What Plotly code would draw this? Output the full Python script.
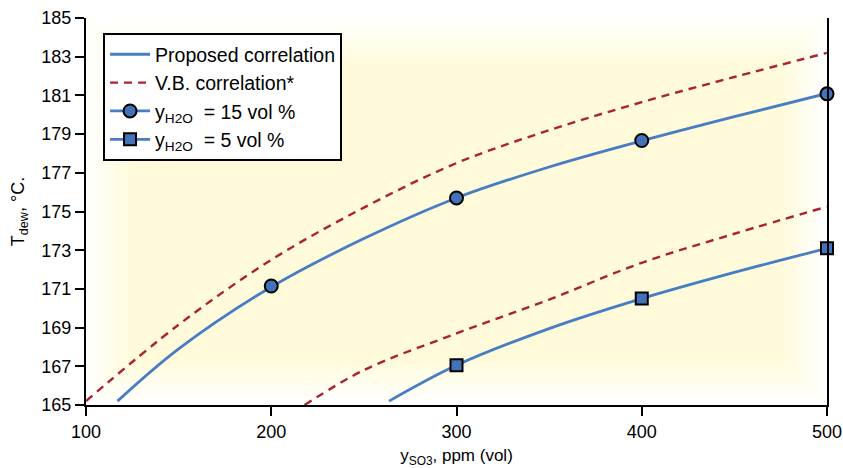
import plotly.graph_objects as go

# ---- data ----
# Proposed correlation curves
prop15_x = [117, 150, 200, 250, 300, 350, 400, 450, 500]
prop15_y = [165.2, 167.9, 171.1, 173.6, 175.7, 177.3, 178.65, 179.9, 181.1]
prop5_x = [263.6, 300, 350, 400, 450, 500]
prop5_y = [165.2, 167.05, 168.95, 170.5, 171.85, 173.1]
# V.B. correlation curves
vb15_x = [100, 150, 200, 250, 300, 350, 400, 450, 500]
vb15_y = [165.2, 169.15, 172.5, 175.2, 177.5, 179.2, 180.65, 181.95, 183.2]
vb5_x = [218, 250, 300, 350, 400, 450, 500]
vb5_y = [165.0, 166.8, 168.7, 170.45, 172.35, 173.85, 175.25]
# measured points
pts15_x = [200, 300, 400, 500]
pts15_y = [171.15, 175.7, 178.67, 181.08]
pts5_x = [300, 400, 500]
pts5_y = [167.05, 170.5, 173.1]

x_ticks = [100, 200, 300, 400, 500]
y_ticks = [165, 167, 169, 171, 173, 175, 177, 179, 181, 183, 185]

BLUE = "#467DC3"
MFILL = "#4472B8"
RED = "#AA2330"
FONT = "Liberation Sans, Arial, sans-serif"

fig = go.Figure()
fig.add_trace(go.Scatter(x=prop15_x, y=prop15_y, mode="lines", line=dict(color=BLUE, width=2.8, shape="spline"),
                         name="Proposed correlation", showlegend=True))
fig.add_trace(go.Scatter(x=prop5_x, y=prop5_y, mode="lines", line=dict(color=BLUE, width=2.8, shape="spline"),
                         showlegend=False))
fig.add_trace(go.Scatter(x=vb15_x, y=vb15_y, mode="lines", line=dict(color=RED, width=2.4, dash="8px,6px", shape="spline"),
                         name="V.B. correlation*", showlegend=True))
fig.add_trace(go.Scatter(x=vb5_x, y=vb5_y, mode="lines", line=dict(color=RED, width=2.4, dash="8px,6px", shape="spline"),
                         showlegend=False))
# legend-only entries
fig.add_trace(go.Scatter(x=[None], y=[None], mode="lines+markers", line=dict(color=BLUE, width=2.8),
                         marker=dict(symbol="circle", size=13, color=MFILL, line=dict(color="black", width=2)),
                         name="y<sub>H2O</sub>  = 15 vol %"))
fig.add_trace(go.Scatter(x=[None], y=[None], mode="lines+markers", line=dict(color=BLUE, width=2.8),
                         marker=dict(symbol="square", size=12, color=MFILL, line=dict(color="black", width=2)),
                         name="y<sub>H2O</sub>  = 5 vol %"))
# markers
fig.add_trace(go.Scatter(x=pts15_x, y=pts15_y, mode="markers", cliponaxis=False, showlegend=False,
                         marker=dict(symbol="circle", size=13, color=MFILL, line=dict(color="black", width=2))))
fig.add_trace(go.Scatter(x=pts5_x, y=pts5_y, mode="markers", cliponaxis=False, showlegend=False,
                         marker=dict(symbol="square", size=12, color=MFILL, line=dict(color="black", width=2))))

# soft yellow background (rectangular feathered gradient)
W, H = 741.0, 387.0
N = 20
fade = 45.0
c0 = (255, 255, 255)
c1 = (255, 251, 218)
shapes = []
for i in range(N + 1):
    t = i / N
    d = fade * t
    col = tuple(round(c0[k] + (c1[k] - c0[k]) * t) for k in range(3))
    shapes.append(dict(type="rect", xref="x domain", yref="y domain", layer="below",
                       x0=d / W, x1=1 - d / W, y0=d / H, y1=1 - d / H,
                       line=dict(width=0), fillcolor="rgb(%d,%d,%d)" % col))

fig.update_layout(
    width=843, height=468,
    margin=dict(l=86, r=16, t=18, b=63, autoexpand=False),
    paper_bgcolor="white", plot_bgcolor="white",
    font=dict(family=FONT, color="black", size=16),
    shapes=shapes,
    showlegend=True,
    legend=dict(x=0.023, y=0.961, xanchor="left", yanchor="top",
                bgcolor="white", bordercolor="black", borderwidth=2,
                font=dict(family=FONT, size=19.5, color="black"),
                tracegroupgap=0, itemwidth=40),
    xaxis=dict(range=[100, 500], tickvals=x_ticks, ticks="outside", ticklen=9, tickwidth=2, tickcolor="black",
               showline=True, linecolor="black", linewidth=2, mirror=False, showgrid=False, zeroline=False,
               automargin=False, tickfont=dict(family=FONT, size=18),
               title=dict(text="y<sub>SO3</sub>, ppm (vol)", font=dict(family=FONT, size=17), standoff=12)),
    yaxis=dict(range=[165, 185], tickvals=y_ticks, ticks="outside", ticklen=9, tickwidth=2, tickcolor="black",
               showline=True, linecolor="black", linewidth=2, mirror=True, showgrid=False, zeroline=False,
               automargin=False, tickfont=dict(family=FONT, size=18),
               title=dict(text="T<sub>dew</sub>, °C.", font=dict(family=FONT, size=18), standoff=12)),
)

fig.write_html("out.html")
